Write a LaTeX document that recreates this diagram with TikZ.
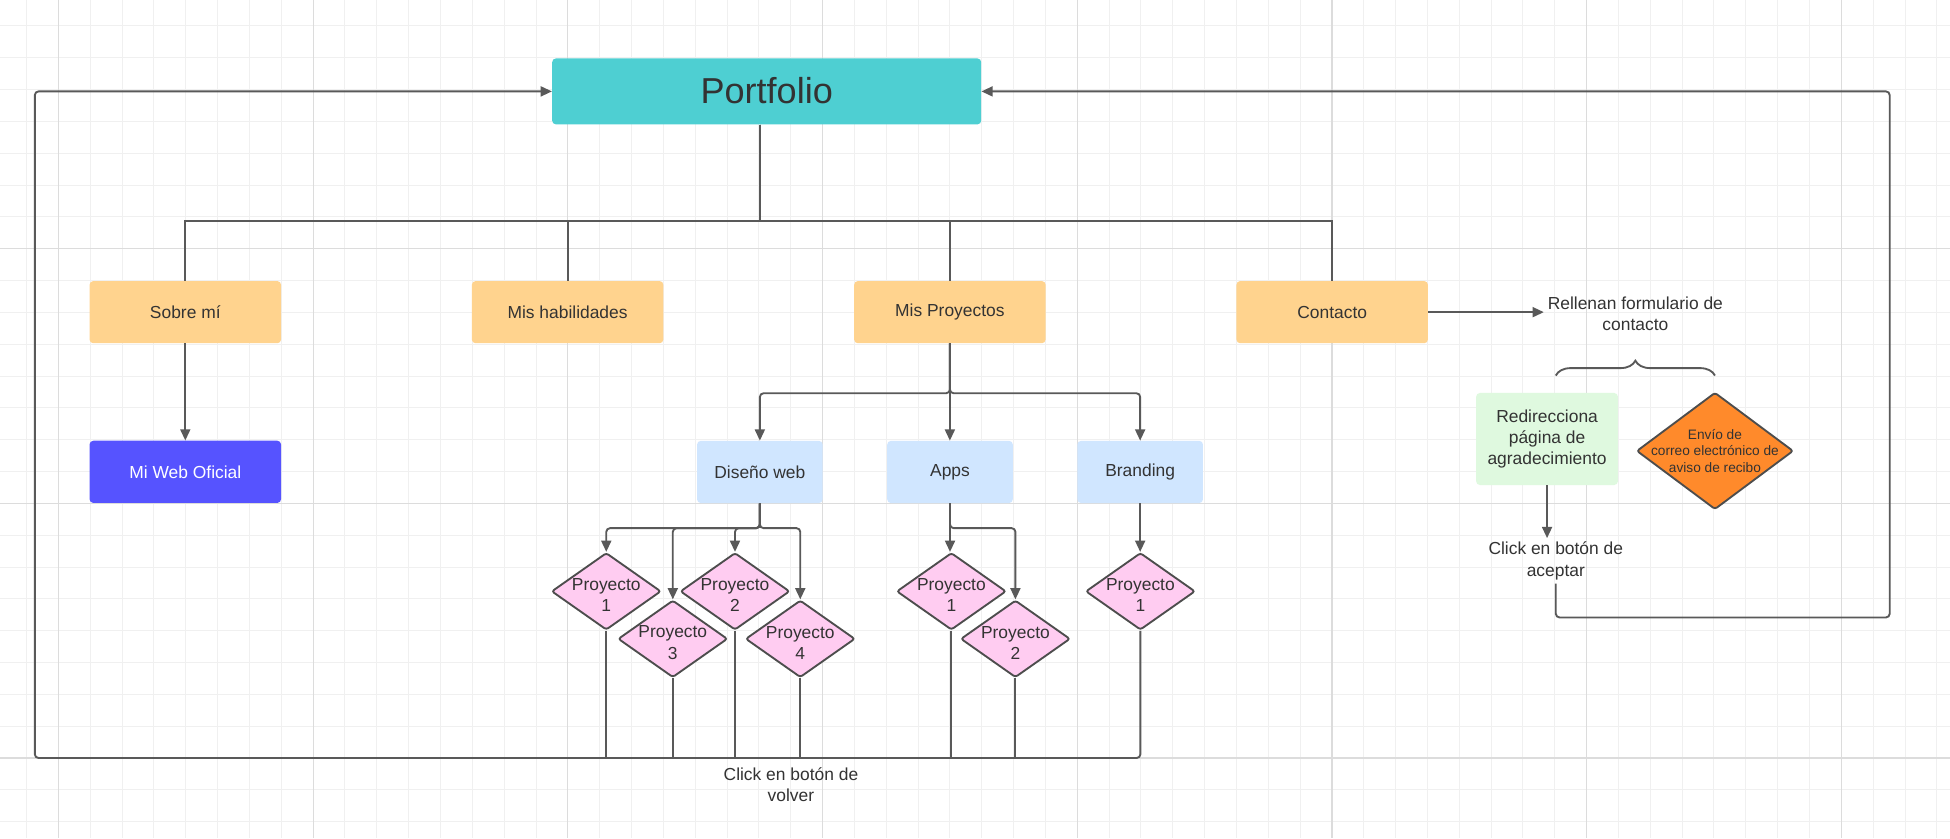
\documentclass[tikz,border=0pt]{standalone}
\usepackage{fontspec}
\setmainfont{Liberation Sans}
\usepackage{tikz}
\usetikzlibrary{shapes,arrows.meta,decorations.pathreplacing}
\usetikzlibrary{positioning}
\definecolor{clrText}{HTML}{333333}
\definecolor{clrLine}{HTML}{595959}
\definecolor{clrBorder}{HTML}{4D4D4D}
\definecolor{clrPortfolio}{HTML}{4ECFD2}
\definecolor{clrRow}{HTML}{FFD38E}
\definecolor{clrWeb}{HTML}{5653FF}
\definecolor{clrSub}{HTML}{D0E6FF}
\definecolor{clrPink}{HTML}{FFCCF1}
\definecolor{clrGreen}{HTML}{DFF9DF}
\definecolor{clrOrange}{HTML}{FF8A2B}
\definecolor{clrGridMinor}{HTML}{F0F0F0}
\definecolor{clrGridMajor}{HTML}{DCDCDC}
\tikzstyle{box_style0}=[rounded corners=3pt, anchor=center, text centered, text=clrText, font=\fontsize{14}{17}\selectfont]
\tikzstyle{topbox}=[box_style0, fill=clrPortfolio, minimum width=345pt, minimum height=53pt, font=\fontsize{29}{34}\selectfont]
\tikzstyle{rowbox}=[box_style0, fill=clrRow, minimum width=154pt, minimum height=50pt]
\tikzstyle{webbox}=[box_style0, fill=clrWeb, text=white, minimum width=154pt, minimum height=50pt]
\tikzstyle{subbox}=[box_style0, fill=clrSub, minimum width=101pt, minimum height=50pt]
\tikzstyle{thanksbox}=[box_style0, align=center, fill=clrGreen, minimum width=114pt, minimum height=74pt]
\tikzstyle{projbox}=[diamond, draw=clrBorder, line width=1.5pt, fill=clrPink, minimum width=88pt, minimum height=62pt, inner sep=0pt, rounded corners=2pt]
\tikzstyle{mailbox}=[projbox, fill=clrOrange, minimum width=126pt, minimum height=94pt]
\tikzstyle{plaintext}=[align=center, text=clrText, font=\fontsize{14}{17}\selectfont, inner sep=3pt]
\tikzstyle{projtext}=[plaintext, inner sep=0pt]
\tikzstyle{mailtext}=[plaintext, inner sep=0pt, font=\fontsize{11}{13.5}\selectfont]
\tikzstyle{myline}=[draw=clrLine, line width=1.5pt]
\tikzstyle{myarrow}=[myline, -{Triangle[length=9pt,width=8pt]}, rounded corners=3pt]
\tikzstyle{gridminor}=[draw=clrGridMinor, line width=0.8pt]
\tikzstyle{gridmajor}=[draw=clrGridMajor, line width=1pt]

\begin{document}
\begin{tikzpicture}[x=1pt, y=-1pt]
		\useasboundingbox (0,0) rectangle (1568,674) ;
		\fill[white] (0,0) rectangle (1568,674) ;

		% background grid
		\foreach \i in {0,...,60} \draw[gridminor] ({21.4+\i*25.6},0) -- ++(0,674) ;
		\foreach \j in {0,...,25} \draw[gridminor] (0,{20.8+\j*25.6}) -- ++(1568,0) ;
		\foreach \i in {0,...,7} \draw[gridmajor] ({47+\i*204.8},0) -- ++(0,674) ;
		\foreach \j in {0,...,2} \draw[gridmajor] (0,{200+\j*204.8}) -- ++(1568,0) ;

		\node[topbox] (A) at (616.5,73.5) {\raisebox{2pt}{Portfolio}} ;
		\coordinate (bus) at (611,178) ;

		\node[rowbox] (B) at (149,251) {Sobre mí} ;
		\draw[myline] (A.south -| bus) -- (bus) -| (B.north) ;

		\node[rowbox, right=153pt of B] (C) {Mis habilidades} ;
		\draw[myline] (A.south -| bus) -- (bus) -| (C.north) ;

		\node[rowbox, right=153pt of C] (D) {Mis Proyectos} ;
		\draw[myline] (A.south -| bus) -- (bus) -| (D.north) ;

		\node[rowbox, right=153pt of D] (E) {Contacto} ;
		\draw[myline] (A.south -| bus) -- (bus) -| (E.north) ;

		\node[webbox, below=78pt of B] (M) {Mi Web Oficial} ;
		\draw[myarrow] (B) -- (M) ;

		% proyectos
		\node[subbox] (F) at (611,379.5) {Diseño web} ;
		\draw[myarrow] (D.south) -- ++(0,40) -| (F.north) ;

		\node[subbox, right=51.5pt of F] (G) {Apps} ;
		\draw[myarrow] (D.south) -- (D.south |- G.north) ;

		\node[subbox, right=51.5pt of G] (H) {Branding} ;
		\draw[myarrow] (D.south) -- ++(0,40) -| (H.north) ;

		\node[projbox] (P1) at (487.5,475.5) {} ;
		\node[projtext] (P1t) at ([yshift=-3pt]P1.center) {Proyecto\\1} ;
		\draw[myarrow] (F.south) -- ++(0,20) -| (P1.north) ;

		\node[projbox] (P2) at (591,475.5) {} ;
		\node[projtext] (P2t) at ([yshift=-3pt]P2.center) {Proyecto\\2} ;
		\draw[myarrow] (F.south) -- ++(0,20) -| (P2.north) ;

		\node[projbox] (P3) at (541,513.7) {} ;
		\node[projtext] (P3t) at ([yshift=-3pt]P3.center) {Proyecto\\3} ;
		\draw[myarrow] (F.south) -- ++(0,20) -| (P3.north) ;

		\node[projbox] (P4) at (643.5,513.7) {} ;
		\node[projtext] (P4t) at ([yshift=-3pt]P4.center) {Proyecto\\4} ;
		\draw[myarrow] (F.south) -- ++(0,20) -| (P4.north) ;

		\node[projbox] (Q1) at (765,475.5) {} ;
		\node[projtext] (Q1t) at ([yshift=-3pt]Q1.center) {Proyecto\\1} ;
		\draw[myarrow] (G.south) -- (G.south |- Q1.north) ;

		\node[projbox] (Q2) at (816.5,513.7) {} ;
		\node[projtext] (Q2t) at ([yshift=-3pt]Q2.center) {Proyecto\\2} ;
		\draw[myarrow] (G.south) -- ++(0,20) -| (Q2.north) ;

		\node[projbox] (R1) at (917,475.5) {} ;
		\node[projtext] (R1t) at ([yshift=-3pt]R1.center) {Proyecto\\1} ;
		\draw[myarrow] (H.south) -- (H.south |- R1.north) ;

		% vuelta al portfolio
		\coordinate (backL) at (28,609.5) ;
		\draw[myline] (P1.south) -- (P1.south |- backL) ;
		\draw[myline] (P2.south) -- (P2.south |- backL) ;
		\draw[myline] (P3.south) -- (P3.south |- backL) ;
		\draw[myline] (P4.south) -- (P4.south |- backL) ;
		\draw[myline] (Q1.south) -- (Q1.south |- backL) ;
		\draw[myline] (Q2.south) -- (Q2.south |- backL) ;
		\draw[myarrow] (R1.south) |- (backL) |- (A.west) ;
		\node[plaintext] (V) at (636,631) {Click en botón de\\volver} ;

		% contacto
		\node[plaintext] (J) at (1315,252) {Rellenan formulario de\\contacto} ;
		\draw[myarrow] (E.east) -- (E.east -| J.west) ;

		\coordinate (braceL) at (1251,302) ;
		\coordinate (braceR) at (1379,302) ;
		\draw[myline, decorate, decoration={brace, amplitude=12pt}] (braceL) -- (braceR) ;

		\node[thanksbox] (K) at (1244,353) {Redirecciona\\página de\\agradecimiento} ;

		\node[mailbox] (L) at (1379,362.6) {} ;
		\node[mailtext] (Lt) at (L.center) {Envío de\\correo electrónico de\\aviso de recibo} ;

		\node[plaintext] (N) at (1251,451) {Click en botón de\\aceptar} ;
		\draw[myarrow] (K.south) -- (K.south |- N.north) ;

		\coordinate (backR) at (1519.5,496.5) ;
		\draw[myarrow] (N.south) |- (backR) |- (A.east) ;

	\end{tikzpicture}
\end{document}
